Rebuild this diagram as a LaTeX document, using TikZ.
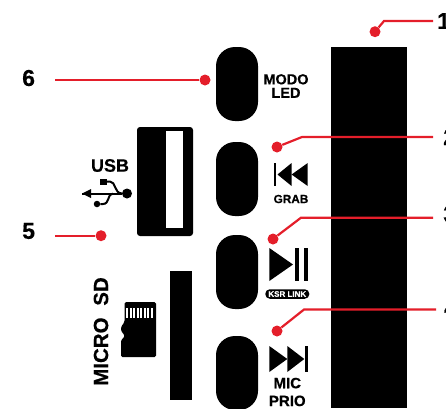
\documentclass[tikz,border=0pt]{standalone}
\usepackage{fontspec}
\setmainfont{Liberation Sans}[BoldFeatures={FakeBold=0.5}]
\usepackage{xcolor}
\usetikzlibrary{positioning}
\definecolor{ledred}{RGB}{228,30,42}
\tikzset{
  x=1pt, y=-1pt,
  btnpill/.style={fill=black, minimum width=42pt, rounded corners=19pt, inner sep=0pt},
  reddot/.style={circle, fill=ledred, minimum size=11pt, inner sep=0pt},
  leader/.style={draw=ledred, line width=2.2pt},
  numlabel/.style={font=\fontsize{23}{26}\selectfont\bfseries, inner sep=0pt},
  btntext/.style={font=\fontsize{14.5}{14}\selectfont\bfseries, align=center, inner sep=0pt},
}
\begin{document}
\begin{tikzpicture}
\useasboundingbox (0,0) rectangle (446,408);
\clip (0,0) rectangle (446,408);
% panel
\node[fill=black, minimum width=76pt, minimum height=361pt, inner sep=0pt] (panel) at (369,227.5) {};
\node[btnpill, minimum height=74pt] (btnmodo) at (237,84) {};
\node[btnpill, minimum height=74pt] (btngrab) at (237,179) {};
\node[btnpill, minimum height=74pt] (btnplay) at (237,272) {};
\node[btnpill, minimum height=74pt] (btnnext) at (237,373) {};
% usb port
\node[fill=black, rounded corners=3pt, minimum width=56pt, minimum height=109pt, inner sep=0pt] (usbport) at (165,181.5) {};
\node[fill=white, minimum width=17pt, minimum height=97pt, inner sep=0pt] (usbslot) at (174.5,179.5) {};
% sd slot
\node[fill=black, minimum width=22pt, minimum height=129pt, inner sep=0pt] (sdslot) at (181,335.5) {};
% texts
\node[btntext] (modo) at (286,86) {MODO\\[-0.5pt]LED};
\node[btntext, font=\fontsize{11.8}{14}\selectfont\bfseries] (grab) at (291,199) {GRAB};
\node[btntext, font=\fontsize{15}{17.8}\selectfont\bfseries] (mic) at (287.3,392) {MIC\\PRIO};
\node[btntext, font=\fontsize{18}{20}\selectfont\bfseries] (usb) at (110,165.5) {USB};
\node[btntext, font=\fontsize{20.5}{20}\selectfont\bfseries, rotate=90] (microsd) at (101,331.5) {MICRO\hspace{6pt} SD};
\node[fill=black, rounded corners=4.5pt, minimum width=44pt, minimum height=9.5pt, inner sep=0pt] (ksr) at (287.3,294) {};
\node[text=white, font=\fontsize{8}{9}\selectfont\bfseries, inner sep=0pt] (ksrtext) at (ksr) {KSR LINK};
% transport icons
\fill (274,163) rectangle (276,186);
\fill (277.5,174.5) -- (291.6,163) -- (291.6,186) -- cycle;
\fill (291.6,174.5) -- (307.7,163) -- (307.7,186) -- cycle;
\fill (269.3,248) -- (293,264.5) -- (269.3,281) -- cycle;
\fill (295,248) rectangle (299,281);
\fill (303.7,248) rectangle (307.7,281);
\fill (269.3,346) -- (287.3,359) -- (269.3,372) -- cycle;
\fill (287.3,346) -- (304.3,359) -- (287.3,372) -- cycle;
\fill (305.3,346) rectangle (308,372);
% usb symbol
\node[circle, fill=black, minimum size=10pt, inner sep=0pt] (usbroot) at (127,193.5) {};
\node[circle, fill=black, minimum size=6.5pt, inner sep=0pt] (usbdot) at (97,204) {};
\node[fill=black, minimum width=7pt, minimum height=6pt, inner sep=0pt] (usbsquare) at (103.5,181.5) {};
\coordinate (usbtip) at (82,193.5);
\fill (usbtip) -- (91,189) -- (91,198) -- cycle;
\draw[line width=2pt] (usbroot) -- (usbtip);
\draw[line width=2pt] (usbsquare.east) -- (110,181.5) .. controls (116,181.5) and (114,193.5) .. (122,193.5);
\draw[line width=2pt] (usbdot) -- (103,204) .. controls (110,204) and (107,193.5) .. (113,193.5);
% micro sd card
\fill[rounded corners=1.5pt] (124.5,302) -- (156,302) -- (156,357) -- (121,357) -- (121,340) -- (124.5,337) -- (124.5,335) -- (121,331) -- (121,327) -- (124.5,322) -- cycle;
\foreach \i in {0,...,7} {
  \fill[white] ({126.3+3.5*\i},307.5) rectangle ({128.3+3.5*\i},318);
}
% leaders
\node[reddot] (dotone) at (375,31.7) {};
\node[reddot] (dottwo) at (277,147) {};
\node[reddot] (dotthree) at (273,239) {};
\node[reddot] (dotfour) at (277,331) {};
\node[reddot] (dotfive) at (101,235.7) {};
\node[reddot] (dotsix) at (205,80) {};
\coordinate (bendone) at (384,21);
\coordinate (bendtwo) at (302,137);
\coordinate (bendthree) at (301,217.7);
\coordinate (bendfour) at (304,309.5);
\coordinate (endone) at (433,21);
\coordinate (endtwo) at (433,137);
\coordinate (endthree) at (433,217.7);
\coordinate (endfour) at (436,309.5);
\coordinate (endfive) at (55,235.7);
\coordinate (endsix) at (55,80);
\draw[leader] (dotone) -- (bendone) -- (endone);
\draw[leader] (dottwo) -- (bendtwo) -- (endtwo);
\draw[leader] (dotthree) -- (bendthree) -- (endthree);
\draw[leader] (dotfour) -- (bendfour) -- (endfour);
\draw[leader] (dotfive) -- (endfive);
\draw[leader] (dotsix) -- (endsix);
% numbers
\node[numlabel, anchor=west] (numone) at (437,21) {1};
\node[numlabel, anchor=west] (numtwo) at (443,137) {2};
\node[numlabel, anchor=west] (numthree) at (443,214) {3};
\node[numlabel, anchor=west] (numfour) at (444,308) {4};
\node[numlabel, anchor=west] (numfive) at (22,231) {5};
\node[numlabel, anchor=west] (numsix) at (22,78) {6};
\end{tikzpicture}
\end{document}
